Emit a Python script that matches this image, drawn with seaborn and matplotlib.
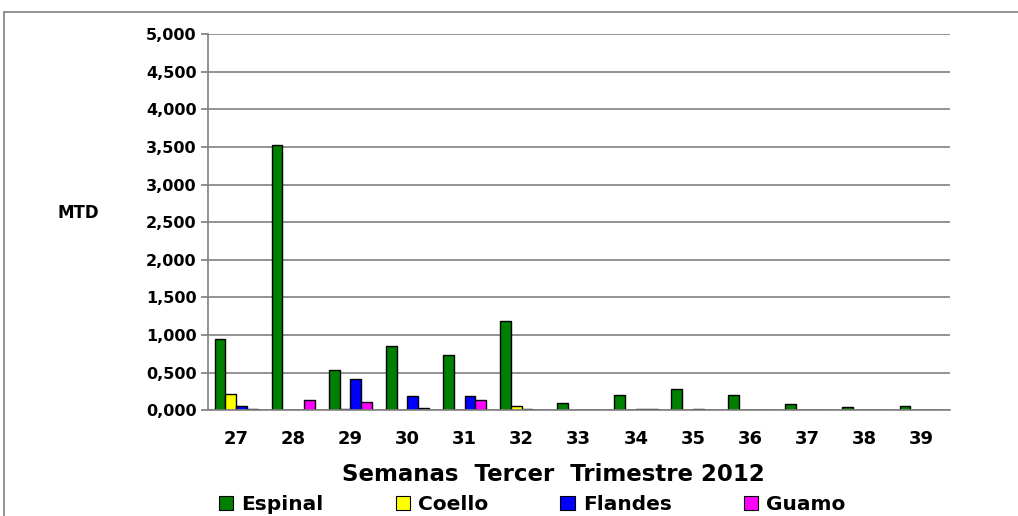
import matplotlib
matplotlib.use("Agg")
import matplotlib.pyplot as plt
import numpy as np
import pandas as pd
import seaborn as sns
from matplotlib.lines import Line2D
from matplotlib.ticker import FuncFormatter

# Datos (MTD por semana)
semanas = ["27", "28", "29", "30", "31", "32", "33", "34", "35", "36", "37", "38", "39"]
espinal = [0.95, 3.52, 0.53, 0.85, 0.74, 1.18, 0.10, 0.20, 0.28, 0.20, 0.08, 0.04, 0.05]
coello = [0.22, 0.0, 0.02, 0.0, 0.0, 0.05, 0.0, 0.0, 0.0, 0.0, 0.0, 0.0, 0.0]
flandes = [0.05, 0.0, 0.42, 0.195, 0.195, 0.02, 0.0, 0.02, 0.02, 0.0, 0.0, 0.0, 0.0]
guamo = [0.02, 0.14, 0.115, 0.036, 0.13, 0.0, 0.0, 0.01, 0.0, 0.0, 0.0, 0.0, 0.0]

municipios = ["Espinal", "Coello", "Flandes", "Guamo"]
colores = ["#008000", "#FFFF00", "#0000FF", "#FF00FF"]

df = pd.DataFrame({
    "Semana": semanas * 4,
    "Municipio": np.repeat(municipios, len(semanas)),
    "MTD": espinal + coello + flandes + guamo,
})

sns.set_theme(style="white")
plt.rcParams["font.family"] = ["DejaVu Sans"]
plt.rcParams.update({"text.color": "black", "axes.labelcolor": "black",
                     "xtick.color": "black", "ytick.color": "black"})

fig = plt.figure(figsize=(10.18, 5.16), dpi=100)
ax = fig.add_axes([0.204, 0.205, 0.729, 0.729])

sns.barplot(
    data=df, x="Semana", y="MTD", hue="Municipio",
    hue_order=municipios, order=semanas,
    palette=colores, saturation=1, width=0.76,
    edgecolor="black", linewidth=1.0, ax=ax, legend=False,
)

ax.set_ylim(0, 5.0)
ax.set_yticks(np.arange(0, 5.01, 0.5))
ax.yaxis.set_major_formatter(FuncFormatter(lambda v, _: f"{v:.3f}".replace(".", ",")))
ax.grid(axis="y", color="#808080", linewidth=1.2)
ax.set_axisbelow(True)
for s in ["top", "right"]:
    ax.spines[s].set_visible(False)
for s in ["left", "bottom"]:
    ax.spines[s].set_color("#808080")
    ax.spines[s].set_linewidth(1.2)
ax.tick_params(axis="y", left=True, length=5, color="#808080", labelsize=11.5, pad=3)
ax.tick_params(axis="x", bottom=False, labelsize=13, pad=8)
for lbl in ax.get_yticklabels() + ax.get_xticklabels():
    lbl.set_fontweight("bold")

ax.set_ylabel("MTD", rotation=0, fontsize=12, fontweight="bold", labelpad=0, ha="left")
ax.yaxis.set_label_coords(-0.203, 0.5)
ax.set_xlabel("Semanas  Tercer  Trimestre 2012", fontsize=16.5, fontweight="bold")
ax.xaxis.set_label_coords(0.466, -0.14)

handles = [plt.Rectangle((0, 0), 1, 1, facecolor=c, edgecolor="black", linewidth=0.8) for c in colores]
fig.legend(handles, municipios, loc="center left", ncol=4, frameon=False,
           bbox_to_anchor=(0.197, 0.022), prop={"size": 14.5, "weight": "bold"},
           handlelength=0.7, handleheight=0.7, handletextpad=0.4, columnspacing=3.6)

# Marco gris exterior
fig.add_artist(Line2D([0.004, 1.0], [1 - 12 / 516, 1 - 12 / 516], color="#808080", linewidth=1.2))
fig.add_artist(Line2D([0.004, 0.004], [0.0, 1 - 12 / 516], color="#808080", linewidth=1.2))

fig.savefig("out.png", dpi=100)
